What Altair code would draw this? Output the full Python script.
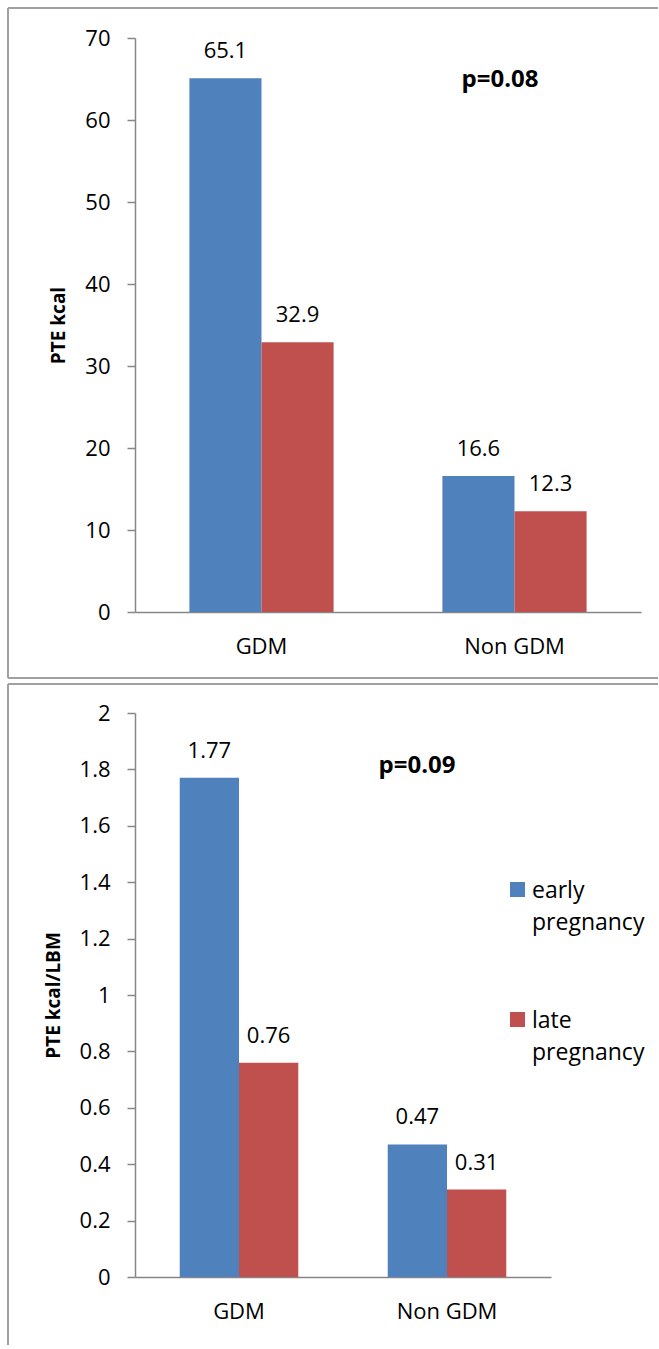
import altair as alt
import pandas as pd

# ---------------- data ----------------
groups = ["GDM", "Non GDM"]
series = ["early pregnancy", "late pregnancy"]
colors = ["#4F81BD", "#C0504D"]

pte_early = [65.1, 16.6]
pte_late = [32.9, 12.3]
pte_ticks = [0, 10, 20, 30, 40, 50, 60, 70]

lbm_early = [1.77, 0.47]
lbm_late = [0.76, 0.31]
lbm_ticks = [0, 0.2, 0.4, 0.6, 0.8, 1, 1.2, 1.4, 1.6, 1.8, 2]

y_titles = ["PTE kcal", "PTE kcal/LBM"]
p_labels = ["p=0.08", "p=0.09"]

FONT = "Open Sans"
AXIS_GRAY = "#868686"
FRAME_GRAY = "#a0a0a0"


def make_df(early, late):
    rows = []
    for g, e, l in zip(groups, early, late):
        rows.append({"group": g, "series": series[0], "value": e})
        rows.append({"group": g, "series": series[1], "value": l})
    return pd.DataFrame(rows)


color_scale = alt.Scale(domain=series, range=colors)
one = pd.DataFrame({"k": [0]})


def hrule(x1, x2, y):
    return alt.Chart(one).mark_rule(color=FRAME_GRAY, strokeWidth=2).encode(
        x=alt.value(x1), x2=alt.value(x2), y=alt.value(y))


def vrule(x, y1, y2):
    return alt.Chart(one).mark_rule(color=FRAME_GRAY, strokeWidth=2).encode(
        x=alt.value(x), y=alt.value(y1), y2=alt.value(y2))


def panel(df, ytitle, ticks, ymax, fmt, w, h, ptext, px, py, title_x, frame):
    x = alt.X("group:N", sort=groups, title=None,
              scale=alt.Scale(paddingInner=0.43, paddingOuter=0.215),
              axis=alt.Axis(labelAngle=0, ticks=False, domainColor=AXIS_GRAY,
                            domainWidth=1.5, labelFont=FONT, labelFontSize=22,
                            labelColor="black", labelPadding=24))
    y = alt.Y("value:Q", title=ytitle,
              scale=alt.Scale(domain=[0, ymax], nice=False),
              axis=alt.Axis(values=ticks, format=".1~f", grid=False,
                            domainColor=AXIS_GRAY, tickColor=AXIS_GRAY,
                            tickSize=8, domainWidth=1.5, tickWidth=1.5,
                            labelFont=FONT, labelFontSize=22, labelColor="black",
                            labelPadding=17, titleFont=FONT, titleFontSize=19,
                            titleFontWeight="bold", titleColor="black",
                            titleX=title_x, titleY=h / 2, titleBaseline="middle",
                            titleAngle=270))
    xoff = alt.XOffset("series:N", sort=series,
                       scale=alt.Scale(paddingInner=0, paddingOuter=0))
    base = alt.Chart(df).encode(x=x, xOffset=xoff, y=y)
    bars = base.mark_bar().encode(
        color=alt.Color("series:N", scale=color_scale, legend=None))
    labels = base.mark_text(baseline="alphabetic", dy=-20, font=FONT,
                            fontSize=22, color="black").encode(
        text=alt.Text("value:Q", format=fmt))
    ptxt = alt.Chart(pd.DataFrame({"p": [ptext]})).mark_text(
        font=FONT, fontSize=24, fontWeight="bold", color="black").encode(
        text="p:N", x=alt.value(px), y=alt.value(py))
    return alt.layer(bars, labels, ptxt, *frame).properties(width=w, height=h)


top = panel(make_df(pte_early, pte_late), y_titles[0], pte_ticks, 70, ".1f",
            506, 574, p_labels[0], 365, 42, -77,
            [hrule(-127, 523, -30), hrule(-127, 523, 640), vrule(-127, -30, 640)])

bot_main = panel(make_df(lbm_early, lbm_late), y_titles[1], lbm_ticks, 2, ".2f",
                 416, 564, p_labels[1], 282, 53, -82,
                 [hrule(-127, 523, -29), vrule(-127, -29, 632)])

legend_df = pd.DataFrame({"series": series})
leg_y = alt.Y("series:N", axis=None,
              scale=alt.Scale(type="point", domain=series, range=[176.5, 306.5], padding=0))
leg_sq = alt.Chart(legend_df).mark_square(size=225, opacity=1).encode(
    x=alt.value(382.5), y=leg_y,
    color=alt.Color("series:N", scale=color_scale, legend=None))
leg_tx = alt.Chart(legend_df).mark_text(
    align="left", baseline="alphabetic", dy=8, lineBreak=" ", lineHeight=32,
    font=FONT, fontSize=23, color="black").encode(
    x=alt.value(397), y=leg_y, text="series:N")
legend_layer = alt.layer(leg_sq, leg_tx)

bottom = alt.layer(bot_main, legend_layer).resolve_scale(y="independent").properties(
    width=416, height=564)

chart = alt.vconcat(top, bottom, spacing=101, bounds="flush").resolve_scale(
    x="independent", y="independent", xOffset="independent"
).properties(
    padding={"left": 7, "top": 7, "right": 0, "bottom": 0},
    background="white",
).configure_view(stroke=None)

chart.save("out.html", embed_options={"renderer": "svg", "actions": False})
